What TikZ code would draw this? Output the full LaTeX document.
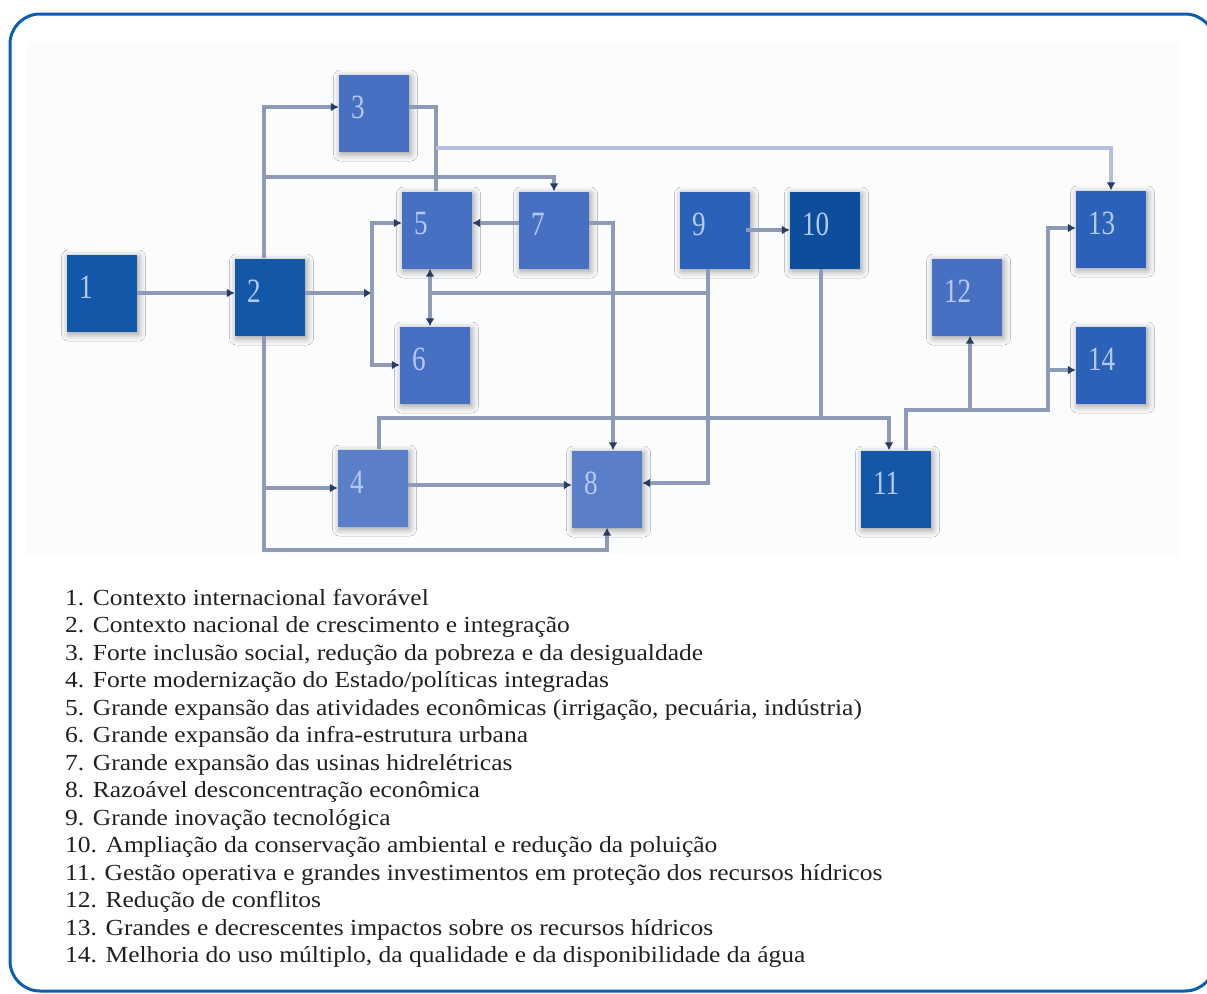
\documentclass[tikz,border=0pt]{standalone}
\usepackage{fontspec}
\setmainfont{Liberation Serif}[FakeStretch=1.11]
\newfontfamily\numfont{Liberation Serif}
\usetikzlibrary{arrows.meta,shadows.blur}
\definecolor{frameblue}{HTML}{0B5DB0}
\definecolor{bdark}{HTML}{1257A8}
\definecolor{bdarker}{HTML}{0C4E9C}
\definecolor{bmid}{HTML}{2A62B9}
\definecolor{blight}{HTML}{4870C2}
\definecolor{blighter}{HTML}{5A7EC7}
\definecolor{lineg}{HTML}{8E9AB6}
\definecolor{linel}{HTML}{B8BEE0}
\definecolor{tipc}{HTML}{2A3C66}
\definecolor{numc}{HTML}{B4C9F0}
\definecolor{txt}{HTML}{231F20}
\definecolor{diagbg}{HTML}{FBFCFD}
\tikzset{
  box/.style={minimum width=70pt, minimum height=77pt, inner sep=0pt, draw=none,
    blur shadow={shadow xshift=1.5pt, shadow yshift=-2.5pt, shadow blur radius=7pt, shadow opacity=40}},
  num/.style={anchor=west, text=numc, font=\numfont\fontsize{34}{34}\selectfont, inner sep=0pt},
  conn/.style={draw=lineg, line width=3.5pt},
  connl/.style={draw=linel, line width=3.5pt},
  arr/.style={-{Latex[length=8pt,width=9pt,color=tipc]}},
  arrb/.style={{Latex[length=8pt,width=9pt,color=tipc]}-{Latex[length=8pt,width=9pt,color=tipc]}},
  item/.style={anchor=base west, inner sep=0pt, text=txt, font=\fontsize{23}{27}\selectfont},
  frame/.style={draw=frameblue, line width=3pt, rounded corners=30pt}
}
\newcommand{\nlab}[1]{\scalebox{0.8}[1]{#1}}
\begin{document}
\begin{tikzpicture}[x=1pt,y=-1pt]
\useasboundingbox (0,0) rectangle (1207,993);
\fill[diagbg] (26,42) rectangle (1180,557);
\draw[frame] (10,991) -- (10,14) -- (1215,14) -- (1215,991) -- cycle;

% boxes
\node[box, fill=bdark] (b1) at (102,293) {};
\node[box, fill=bdark] (b2) at (270,297) {};
\node[box, fill=blight] (b3) at (374,113) {};
\node[box, fill=blighter] (b4) at (373,488) {};
\node[box, fill=blight] (b5) at (437,230) {};
\node[box, fill=blight] (b6) at (435,365) {};
\node[box, fill=blight] (b7) at (554,230) {};
\node[box, fill=blighter] (b8) at (607,489) {};
\node[box, fill=bmid] (b9) at (715,230) {};
\node[box, fill=bdarker] (b10) at (825,230) {};
\node[box, fill=bdark] (b11) at (896,489) {};
\node[box, fill=blight] (b12) at (967,297) {};
\node[box, fill=bmid] (b13) at (1111,229) {};
\node[box, fill=bmid] (b14) at (1111,365) {};

% numbers
\foreach \i in {1,...,14}{
  \node[num] (t\i) at ([xshift=12pt,yshift=6pt]b\i.west) {\nlab{\i}};
}

% connectors
\coordinate (j1) at (372,293);
\coordinate (v2) at (264,177);
\coordinate (v3) at (436,148);
\coordinate (v4) at (264,488);
\coordinate (c2b) at (264,550);
\coordinate (h1) at (430,293);
\coordinate (h2) at (708,293);
\coordinate (k4) at (379,418);
\coordinate (k11) at (1048,410);
\coordinate (k14) at (1048,370);
\coordinate (k12) at (970,410);

\draw[conn,arr] (b1.east) -- ([yshift=4pt]b2.west);
\draw[conn,arr] ([yshift=4pt]b2.east) -- (j1);
\draw[conn,arr] (j1) |- ([yshift=7pt]b5.west);
\draw[conn,arr] (j1) |- (b6.west);
\draw[conn,arr] ([xshift=-6pt]b2.north) |- ([yshift=6pt]b3.west);
\draw[conn,arr] (v2) -| (b7.north);
\draw[conn] ([yshift=6pt]b3.east) -| ([xshift=-1pt]b5.north);
\draw[connl,arr] (v3) -| (b13.north);
\draw[conn,arr] ([yshift=7pt]b7.west) -- ([yshift=7pt]b5.east);
\draw[conn,arrb] ([xshift=-7pt]b5.south) -- ([xshift=-5pt]b6.north);
\draw[conn] (h1) -- (h2);
\draw[conn,arr] ([xshift=-7pt]b9.south) |- ([yshift=6pt]b8.east);
\draw[conn,arr] ([yshift=7pt]b7.east) -| ([xshift=6pt]b8.north);
\draw[conn,arr] ([yshift=3pt]b4.east) -- ([yshift=4pt]b8.west);
\draw[conn,arr] ([xshift=-6pt]b2.south) |- (b8.south |- c2b) -- (b8.south);
\draw[conn,arr] (v4) -- (b4.west);
\draw[conn,arr] ([xshift=6pt]b4.north) |- ([xshift=-7pt]b11.north |- k4) -- ([xshift=-7pt]b11.north);
\draw[conn] ([xshift=-4pt]b10.south) -- ([xshift=-4pt]b10.south |- k4);
\draw[conn,arr] ([xshift=10pt]b11.north) |- (k11) |- ([yshift=1pt]b13.west);
\draw[conn,arr] (k14) -- (b14.west |- k14);
\draw[conn,arr] (k12) -- (k12 |- b12.south);
\draw[conn,arr] ([xshift=-4pt]b9.east) -- (b10.west);

% legend
\node[item] (l1) at (65,605) {1. Contexto internacional favorável};
\node[item] (l2) at (65,632.5) {2. Contexto nacional de crescimento e integração};
\node[item] (l3) at (65,660) {3. Forte inclusão social, redução da pobreza e da desigualdade};
\node[item] (l4) at (65,687.5) {4. Forte modernização do Estado/políticas integradas};
\node[item] (l5) at (65,715) {5. Grande expansão das atividades econômicas (irrigação, pecuária, indústria)};
\node[item] (l6) at (65,742.5) {6. Grande expansão da infra-estrutura urbana};
\node[item] (l7) at (65,770) {7. Grande expansão das usinas hidrelétricas};
\node[item] (l8) at (65,797.5) {8. Razoável desconcentração econômica};
\node[item] (l9) at (65,825) {9. Grande inovação tecnológica};
\node[item] (l10) at (65,852.5) {10. Ampliação da conservação ambiental e redução da poluição};
\node[item] (l11) at (65,880) {11. Gestão operativa e grandes investimentos em proteção dos recursos hídricos};
\node[item] (l12) at (65,907.5) {12. Redução de conflitos};
\node[item] (l13) at (65,935) {13. Grandes e decrescentes impactos sobre os recursos hídricos};
\node[item] (l14) at (65,962.5) {14. Melhoria do uso múltiplo, da qualidade e da disponibilidade da água};
\end{tikzpicture}
\end{document}
